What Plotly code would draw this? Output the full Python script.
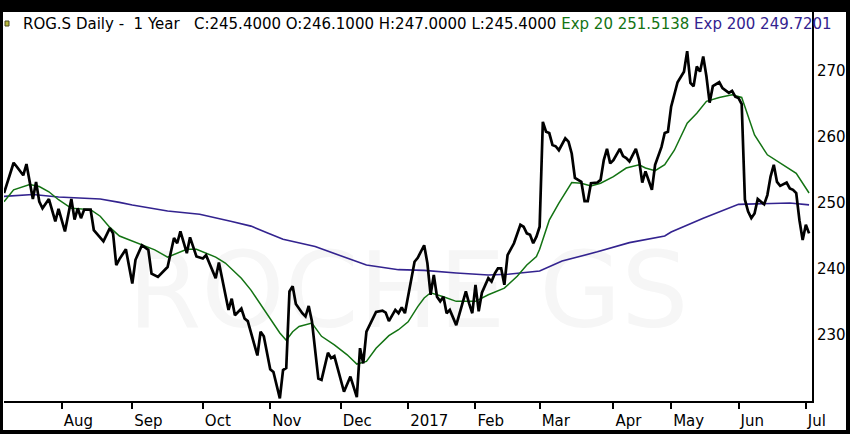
import pandas as pd
import plotly.graph_objects as go

# SIX trading calendar for the 1-year window
holidays = ["2016-08-01", "2016-12-26", "2017-01-02", "2017-04-14",
            "2017-04-17", "2017-05-01", "2017-05-25", "2017-06-05"]
days = pd.bdate_range("2016-07-06", "2017-07-04")
days = days[~days.isin(pd.to_datetime(holidays))]

month_labels = ["Aug", "Sep", "Oct", "Nov", "Dec", "2017",
                "Feb", "Mar", "Apr", "May", "Jun", "Jul"]
y_ticks = [230, 240, 250, 260, 270]

# close (trading-day index -> price)
close_day = [0, 3, 4, 6, 7, 9, 10, 11, 12, 14, 16, 17, 19, 21, 22, 23, 24, 25, 27, 28,
             31, 33, 34, 35, 36, 38, 40, 41, 43, 45, 46, 48, 51, 53, 54, 55, 57, 58, 60, 62,
             63, 66, 67, 69, 70, 71, 72, 74, 75, 76, 79, 80, 81, 83, 84, 86, 87, 88, 89, 90,
             91, 93, 94, 95, 96, 98, 99, 101, 102, 103, 106, 108, 110, 111, 112, 113, 116, 118, 119, 120,
             122, 123, 124, 125, 128, 129, 131, 132, 133, 134, 135, 136, 137, 138, 139, 141, 144, 145, 146, 147,
             148, 149, 151, 152, 153, 154, 155, 156, 157, 159, 161, 162, 163, 164, 165, 166, 167, 168, 169, 170,
             171, 172, 173, 175, 176, 177, 178, 179, 180, 181, 182, 183, 185, 186, 187, 188, 189, 190, 192, 193,
             194, 195, 197, 198, 199, 200, 201, 202, 203, 204, 205, 206, 207, 208, 210, 212, 213, 214, 215, 216,
             217, 218, 219, 220, 221, 223, 224, 226, 227, 228, 229, 230, 231, 232, 233, 234, 235, 237, 238, 239,
             240, 241, 242, 244, 245, 246, 247, 248, 249, 250, 251]
close_val = [251.5, 256.1, 255.5, 254.2, 255.9, 250.6, 253.2, 250.2, 249.2, 250.6, 247.2, 249.1, 245.7, 250.6, 247.5, 249.2, 247.7, 249.0, 249.0, 245.9,
             244.2, 246.2, 245.4, 240.6, 241.5, 243.0, 237.8, 241.4, 243.6, 242.9, 239.3, 238.8, 240.3, 244.7, 243.9, 245.7, 242.4, 244.8, 241.9, 241.6,
             242.1, 238.6, 241.0, 235.8, 233.8, 235.5, 233.0, 234.0, 232.5, 232.1, 226.9, 230.5, 229.8, 224.8, 224.4, 220.4, 224.7, 225.0, 236.6, 237.4,
             234.7, 233.3, 232.8, 234.4, 232.1, 223.4, 223.2, 227.3, 226.5, 226.8, 221.4, 223.7, 220.6, 228.0, 225.7, 230.5, 233.5, 233.7, 233.4, 232.1,
             233.8, 233.3, 234.2, 233.3, 241.1, 241.7, 243.6, 240.9, 236.1, 239.1, 235.8, 235.1, 235.8, 233.3, 233.8, 231.5, 236.6, 234.8, 233.3, 237.6,
             233.6, 236.4, 238.6, 238.1, 239.3, 240.1, 240.1, 237.6, 242.1, 243.9, 246.7, 246.4, 245.4, 245.2, 243.9, 244.9, 246.4, 262.3, 260.8, 260.6,
             258.8, 258.6, 258.0, 259.8, 259.3, 257.5, 253.8, 253.5, 253.2, 250.3, 250.3, 253.0, 253.1, 253.5, 256.5, 258.2, 256.0, 256.5, 258.2, 257.1,
             256.8, 256.3, 258.2, 256.5, 253.1, 254.8, 253.5, 252.0, 255.8, 257.3, 258.5, 260.6, 260.8, 264.6, 268.3, 269.9, 273.0, 268.2, 267.7, 270.7,
             269.9, 272.2, 269.2, 265.2, 267.7, 268.3, 267.4, 266.7, 267.0, 266.1, 265.9, 265.0, 250.5, 248.7, 247.7, 248.4, 250.6, 249.8, 251.2, 254.0,
             255.8, 253.2, 252.6, 253.1, 252.2, 252.0, 251.5, 247.4, 244.4, 246.7, 245.4]

# Exp 20
ema20_day = [0, 3, 8, 11, 14, 17, 21, 27, 30, 33, 36, 43, 47, 51, 54, 57, 60, 63, 66, 69,
             74, 77, 80, 83, 86, 88, 90, 92, 96, 99, 103, 107, 110, 113, 116, 120, 123, 126, 129, 131,
             133, 137, 141, 147, 151, 156, 160, 163, 166, 167, 170, 173, 177, 180, 183, 186, 190, 194, 198, 200,
             203, 206, 209, 213, 216, 219, 223, 227, 229, 230, 231, 234, 238, 242, 247, 251]
ema20_val = [250.2, 252.0, 252.8, 252.5, 251.7, 250.5, 249.2, 249.0, 248.0, 246.3, 245.0, 243.6, 242.9, 241.8, 242.4, 243.0, 243.0, 242.4, 241.8, 240.9,
             238.6, 236.8, 234.6, 232.3, 230.3, 229.2, 230.5, 231.3, 231.8, 229.8, 228.5, 227.0, 225.6, 226.0, 228.0, 229.9, 230.8, 232.0, 234.3, 235.6,
             236.4, 235.8, 235.1, 235.1, 236.1, 237.1, 238.9, 240.6, 241.9, 243.0, 247.4, 250.0, 253.1, 253.0, 252.6, 253.0, 254.0, 255.3, 255.8, 255.3,
             254.9, 255.8, 258.0, 262.1, 263.6, 265.4, 266.0, 266.4, 266.1, 266.0, 264.6, 260.3, 257.3, 256.0, 254.5, 251.5138]

# Exp 200
ema200_day = [0, 9, 17, 30, 36, 40, 51, 61, 71, 77, 82, 87, 97, 108, 113, 123, 131, 141, 151, 157,
              167, 174, 185, 195, 206, 208, 218, 229, 239, 245, 251]
ema200_val = [251.0, 251.3, 250.9, 250.6, 250.1, 249.7, 248.8, 248.3, 247.2, 246.5, 245.5, 244.5, 243.4, 241.4, 240.6, 239.9, 239.8, 239.4, 239.1, 239.2,
              239.7, 241.2, 242.6, 244.0, 245.0, 245.6, 247.7, 249.8, 249.9, 250.0, 249.7201]

GREEN = "#137313"
PURPLE = "#33238f"
FONT = "DejaVu Sans"
PW, PH = 808, 401  # plot area in px (top 12 px hold the black band)

month_starts = days.to_series().groupby(days.to_period("M")).first()
tick_dates = list(month_starts.iloc[1:])

fig = go.Figure()

# faint watermark behind the lines
fig.add_trace(go.Scatter(x=[days[126]], y=[235.3], mode="text", text=["ROCHE GS"],
                         textfont=dict(family=FONT, size=106, color="#f6f6f6"),
                         hoverinfo="skip", showlegend=False))

fig.add_trace(go.Scatter(x=days[ema200_day], y=ema200_val, mode="lines",
                         line=dict(color=PURPLE, width=1.6), showlegend=False))
fig.add_trace(go.Scatter(x=days[ema20_day], y=ema20_val, mode="lines",
                         line=dict(color=GREEN, width=1.5), showlegend=False))
fig.add_trace(go.Scatter(x=days[close_day], y=close_val, mode="lines",
                         line=dict(color="black", width=2.7), showlegend=False))

title = ("ROG.S Daily -\u00a0 1 Year\u00a0\u00a0 C:245.4000 O:246.1000 H:247.0000 L:245.4000 "
         f"<span style='color:{GREEN}'>Exp 20 251.5138</span> "
         f"<span style='color:{PURPLE}'>Exp 200 249.7201</span>")
fig.add_annotation(text=title, xref="paper", yref="paper", x=17 / PW, y=(PH - 24) / PH,
                   xanchor="left", yanchor="middle", showarrow=False,
                   font=dict(family=FONT, size=15, color="black"))

# black frame around the white chart panel
bands = [(-4, 846, PH - 12, PH + 2),   # top
         (-4, 846, -33, -29),          # bottom
         (-4, -1, -33, PH + 2),        # left
         (842, 846, -33, PH + 2)]      # right
for x0, x1, y0, y1 in bands:
    fig.add_shape(type="rect", xref="paper", yref="paper",
                  x0=x0 / PW, x1=x1 / PW, y0=y0 / PH, y1=y1 / PH,
                  fillcolor="black", line_width=0, layer="above")
# small legend square
fig.add_shape(type="rect", xref="paper", yref="paper", x0=1 / PW, x1=5 / PW,
              y0=(PH - 26) / PH, y1=(PH - 21) / PH,
              fillcolor="#b8b83c", line=dict(color="#4a4a20", width=1))

fig.update_xaxes(type="date",
                 rangebreaks=[dict(bounds=["sat", "mon"]), dict(values=holidays)],
                 range=[days[0], days[-1] + pd.Timedelta(hours=22)],
                 tickvals=tick_dates, ticktext=month_labels,
                 ticks="outside", ticklen=6, tickwidth=2, tickcolor="black",
                 ticklabelposition="outside right", ticklabelstandoff=5,
                 tickfont=dict(family=FONT, size=15, color="black"),
                 showline=True, linecolor="black", linewidth=2,
                 showgrid=False, zeroline=False)
fig.update_yaxes(side="right", range=[220, 280.76], tickvals=y_ticks,
                 ticks="", ticklen=0, tickfont=dict(family=FONT, size=15, color="black"),
                 showline=True, linecolor="black", linewidth=2,
                 showgrid=False, zeroline=False)

fig.update_layout(width=850, height=434,
                  margin=dict(l=4, r=38, t=0, b=33, pad=0),
                  paper_bgcolor="white", plot_bgcolor="white",
                  showlegend=False)

fig.write_html("out.html", config={"displayModeBar": False},
               post_script="document.body.style.margin = '0';")
